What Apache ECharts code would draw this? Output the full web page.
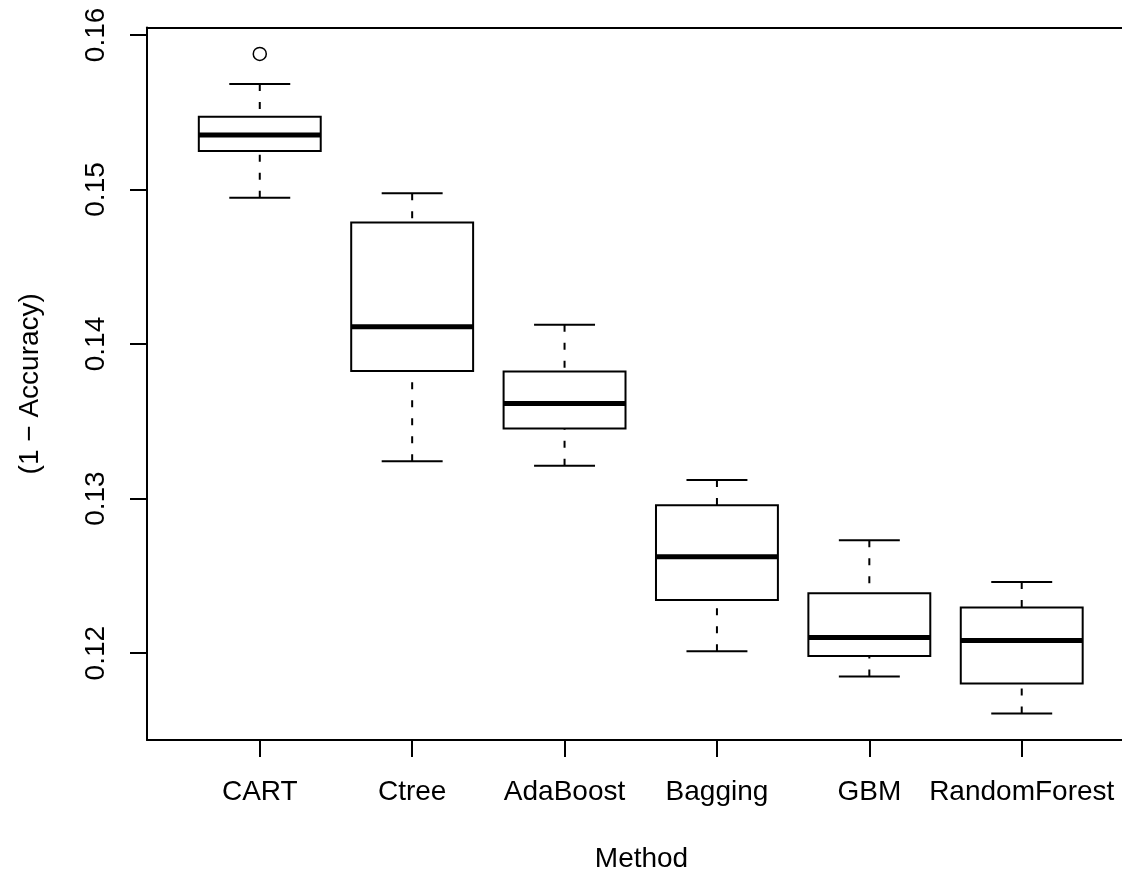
<!DOCTYPE html>
<html>
<head>
<meta charset="utf-8">
<title>Method boxplot</title>
<script src="https://cdn.jsdelivr.net/npm/echarts@6/dist/echarts.min.js"></script>
<style>
  html, body { margin: 0; padding: 0; background: #fff; }
  #chart { width: 1122px; height: 878px; }
</style>
</head>
<body>
<div id="chart"></div>
<script>
// 方法名称
var methods = ['CART', 'Ctree', 'AdaBoost', 'Bagging', 'GBM', 'RandomForest'];
// 五数概括：下须, Q1, 中位数, Q3, 上须
var lowerWhisker = [0.14947, 0.13242, 0.13212, 0.12012, 0.11849, 0.11610];
var q1 = [0.15249, 0.13826, 0.13453, 0.12344, 0.11982, 0.11804];
var median = [0.15352, 0.14112, 0.13616, 0.12624, 0.12101, 0.12081];
var q3 = [0.15470, 0.14786, 0.13823, 0.12957, 0.12387, 0.12296];
var upperWhisker = [0.15682, 0.14976, 0.14125, 0.13121, 0.12731, 0.12460];
// 离群点 [方法序号, 值]
var outliers = [[1, 0.15877]];
var yTicks = [0.12, 0.13, 0.14, 0.15, 0.16];

var FONT = '"Liberation Sans", Arial, Helvetica, sans-serif';
var FS = 28;
// 绘图区右边界在画布外，x 轴只画到 1122 像素处
var X_MIN = 0.26;
var X_MAX = 6.658;

var boxData = methods.map(function (m, i) {
  return [i + 1, lowerWhisker[i], q1[i], median[i], q3[i], upperWhisker[i]];
});

function renderBox(params, api) {
  var x = api.value(0);
  var pLo = api.coord([x, api.value(1)]);
  var pQ1 = api.coord([x, api.value(2)]);
  var pMed = api.coord([x, api.value(3)]);
  var pQ3 = api.coord([x, api.value(4)]);
  var pHi = api.coord([x, api.value(5)]);
  var hw = api.size([0.8, 0])[0] / 2;   // 箱宽 0.8
  var cw = api.size([0.4, 0])[0] / 2;   // 须端 0.4
  var cx = pMed[0];
  var solid = { stroke: '#000', lineWidth: 2, fill: null };
  var dashed = { stroke: '#000', lineWidth: 2, lineDash: [7, 11], fill: null };
  return {
    type: 'group',
    children: [
      { type: 'line', shape: { x1: cx, y1: pHi[1], x2: cx, y2: pQ3[1] }, style: dashed },
      { type: 'line', shape: { x1: cx, y1: pLo[1], x2: cx, y2: pQ1[1] }, style: dashed },
      { type: 'line', shape: { x1: cx - cw, y1: pHi[1], x2: cx + cw, y2: pHi[1] }, style: solid },
      { type: 'line', shape: { x1: cx - cw, y1: pLo[1], x2: cx + cw, y2: pLo[1] }, style: solid },
      {
        type: 'rect',
        shape: { x: cx - hw, y: pQ3[1], width: hw * 2, height: pQ1[1] - pQ3[1] },
        style: { fill: '#fff', stroke: '#000', lineWidth: 2 }
      },
      { type: 'line', shape: { x1: cx - hw, y1: pMed[1], x2: cx + hw, y2: pMed[1] }, style: { stroke: '#000', lineWidth: 5 } }
    ]
  };
}

var chart = echarts.init(document.getElementById('chart'), null, { renderer: 'canvas' });

chart.setOption({
  animation: false,
  backgroundColor: '#fff',
  textStyle: { fontFamily: FONT, color: '#000' },
  grid: {
    left: 147,
    top: 27.5,
    right: 0,
    height: 713.5,
    containLabel: false
  },
  xAxis: [
    {
      type: 'value',
      min: X_MIN,
      max: X_MAX,
      position: 'bottom',
      name: 'Method',
      nameLocation: 'middle',
      nameGap: 105,
      // 标题居中于完整绘图区（含画布外部分）
      nameTextStyle: { fontFamily: FONT, fontSize: FS, color: '#000', padding: [0, 0, 0, 14] },
      axisLine: { show: true, onZero: false, lineStyle: { color: '#000', width: 2 } },
      axisTick: {
        show: true,
        length: 17,
        customValues: [1, 2, 3, 4, 5, 6],
        lineStyle: { color: '#000', width: 2 }
      },
      axisLabel: {
        customValues: [1, 2, 3, 4, 5, 6],
        margin: 38,
        fontFamily: FONT,
        fontSize: FS,
        color: '#000',
        formatter: function (v) {
          return methods[Math.round(v) - 1];
        }
      },
      splitLine: { show: false }
    },
    {
      // 顶部边框线
      type: 'value',
      min: X_MIN,
      max: X_MAX,
      position: 'top',
      axisLine: { show: true, onZero: false, lineStyle: { color: '#000', width: 2 } },
      axisTick: { show: false },
      axisLabel: { show: false },
      splitLine: { show: false }
    }
  ],
  yAxis: {
    type: 'value',
    min: 0.11438,
    max: 0.16048,
    name: '(1 \u2212 Accuracy)',
    nameLocation: 'middle',
    nameGap: 103,
    nameTextStyle: { fontFamily: FONT, fontSize: FS, color: '#000' },
    axisLine: { show: true, onZero: false, lineStyle: { color: '#000', width: 2 } },
    axisTick: {
      show: true,
      length: 17,
      customValues: yTicks,
      lineStyle: { color: '#000', width: 2 }
    },
    axisLabel: {
      customValues: yTicks,
      rotate: 90,
      margin: 37,
      fontFamily: FONT,
      fontSize: FS,
      color: '#000',
      formatter: function (v) {
        return v.toFixed(2);
      }
    },
    splitLine: { show: false }
  },
  series: [
    {
      type: 'custom',
      renderItem: renderBox,
      encode: { x: 0, y: [1, 2, 3, 4, 5] },
      data: boxData,
      z: 2
    },
    {
      type: 'scatter',
      data: outliers,
      symbol: 'circle',
      symbolSize: 13,
      itemStyle: { color: '#fff', borderColor: '#000', borderWidth: 1.5, opacity: 1 },
      z: 3
    }
  ]
});
</script>
</body>
</html>
